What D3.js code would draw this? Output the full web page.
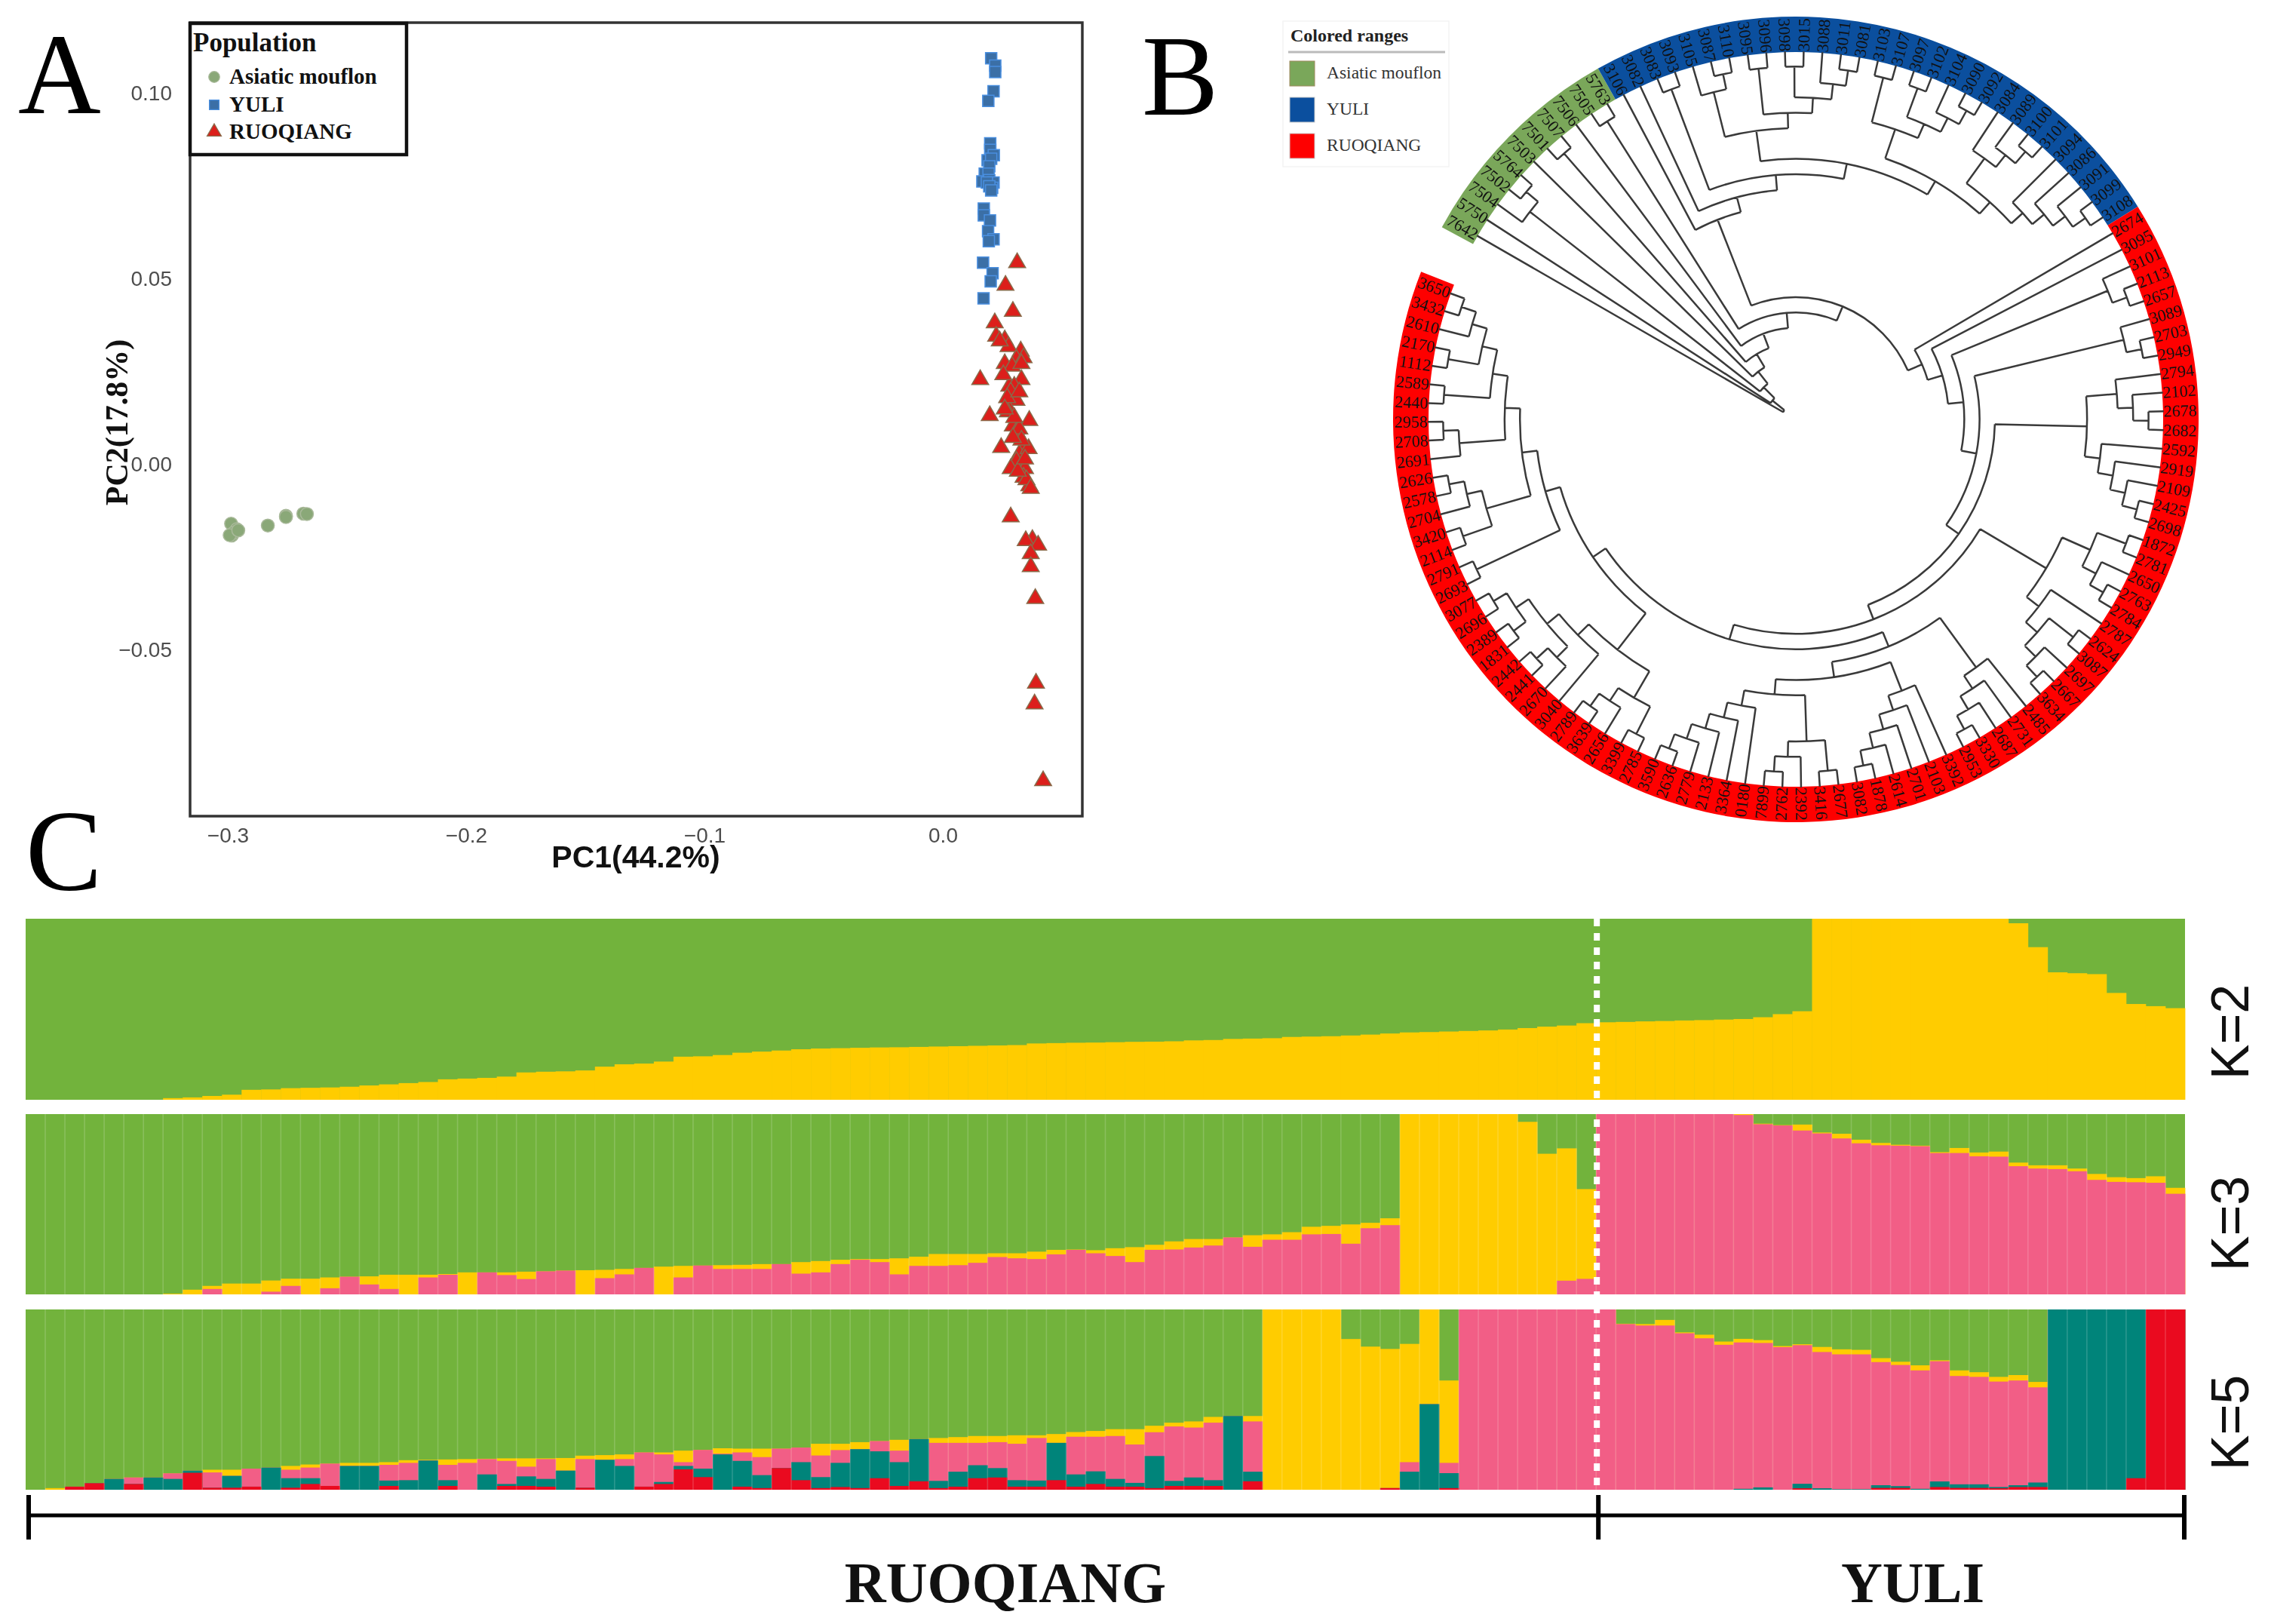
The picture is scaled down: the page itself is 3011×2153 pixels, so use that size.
<!DOCTYPE html>
<html><head><meta charset="utf-8">
<script src="https://cdn.jsdelivr.net/npm/d3@7"></script>
<style>html,body{margin:0;padding:0;background:#fff}svg{display:block;filter:blur(.7px)}</style>
</head><body><svg id="fig" width="3011" height="2153"></svg>
<script>
/* ---------- Panel A: PCA (PC1, PC2) ---------- */
const pcaXTicks=[-0.3,-0.2,-0.1,0.0];
const pcaYTicks=[-0.05,0,0.05,0.10];
const mouflonPC=[[-.2986,-.0159],[-.2983,-.0191],[-.2962,-.0174],[-.2977,-.0184],[-.2992,-.0190],[-.2956,-.0177],[-.2832,-.0164],[-.2756,-.0138],[-.2756,-.0141],[-.2683,-.0132],[-.2668,-.0133]];
const yuliPC=[[.0203,.1095],[.0220,.1075],[.0220,.1058],[.0213,.1006],[.0191,.0980],[.0199,.0866],[.0199,.0848],[.0214,.0834],[.0188,.0820],[.0203,.0824],[.0195,.0804],[.0176,.0784],[.0192,.0784],[.0166,.0763],[.0195,.0767],[.0213,.0760],[.0185,.0760],[.0207,.0746],[.0195,.0750],[.0203,.0739],[.0172,.0690],[.0172,.0672],[.0198,.0658],[.0190,.0629],[.0213,.0607],[.0193,.0602],[.0169,.0544],[.0209,.0516],[.0201,.0494],[.0171,.0448]];
const ruoqiangPC=[[.0312,.0544],[.0263,.0483],[.0294,.0413],[.0218,.0382],[.0224,.0346],[.0260,.0336],[.0276,.0318],[.0327,.0306],[.0309,.0284],[.0339,.0288],[.0260,.0272],[.0291,.0265],[.0157,.0229],[.0330,.0229],[.0279,.0211],[.0300,.0211],[.0309,.0173],[.0279,.0147],[.0197,.0132],[.0363,.0119],[.0294,.0104],[.0309,.0089],[.0339,.0043],[.0245,.0046],[.0321,.0028],[.0360,.0043],[.0309,.0009],[.0285,-.0011],[.0345,-.0011],[.0339,-.0034],[.0363,-.0057],[.0351,-.0041],[.0285,-.0141],[.0376,-.0202],[.0348,-.0205],[.0400,-.0217],[.0369,-.0240],[.0369,-.0275],[.0388,-.0361],[.0391,-.0589],[.0385,-.0645],[.0421,-.0852],[.0273,.0142],[.0330,.0272],[.0239,.0333],[.0321,.0096],[.0254,.0242],[.0369,-.0064],[.0285,.0196],[.0270,.0180],[.0300,.0127],[.0330,.0066],[.0294,.0073],[.0315,-.0018],[.0345,.0015],[.0260,.0150],[.0321,.0196]];
const populations=["Asiatic mouflon","YULI","RUOQIANG"];

/* ---------- Panel B: tree topology (leaf names clockwise) ---------- */
const groupSizes=[11,30,80];
const groupColors=["#7aa75a","#0b4f9e","#fe0000"];
const blueClade=["3106",["3082",[["3083","3093"],[
  [["3105",["3087","3110"]],[["3095","3096"],[["3098","3015"],["3088",["3011","3081"]]]]],
  [[["3103","3107"],[["3097","3102"],["3104",["3090","3092"]]]],
   [["3084",["3089",["3100","3101"]]],["3094",["3086",["3091",["3099","3108"]]]]]]
]]]];
const redUpper=[["3101",["2113","2657"]],[["3089",["2703","2949"]],[
  [["2794",["2102",["2678","2682"]]],["2592",["2919",["2109",["2425","2698"]]]]],
  "LOWER"]]];
const redMid=[[[["1872","2781"],["2650",["2763","2784"]]],["2787",[["2624","3087"],["2697",["2667","3634"]]]]],
  [[["2485",["2731",["2687",["3330","2953"]]]],
    [["3392",["2103",["2701",["2614",["1878","3082"]]]]],
     [[["2677","3416"],["2392",["2762","7899"]]],["0180",["3364",["2133",["2779",["2636","3590"]]]]]]]],
   [[[["2785","3399"],["2656",["3639","2789"]]],["3040",[["2670",["2441","2442"]],[["1831","2389"],["2696","3077"]]]]],
    [["2693","2791"],[[["2114","3420"],["2704",["2578","2626"]]],
      [["2691",["2708","2958"]],[["2440","2589"],[["1112","2170"],["2610",["3432","3650"]]]]]]]]]];
redUpper[1][1][1]=redMid;
const redClade=["2674",["3095",redUpper]];
const treeTopology=["7642",["5750",[["7504",["7502","5764"]],["7503",[["7501","7507"],["7506",[["7505","5763"],[blueClade,redClade]]]]]]]];

/* ---------- Panel C: ADMIXTURE, cumulative % per individual ---------- */
const popSplit=[["RUOQIANG",80],["YULI",30]];
const k2Yellow=[0,0,0,0,0,0,0,.9,1.3,2.1,
2.8,5.5,5.7,6.4,6.6,6.8,7.2,7.9,8.5,9.2,
9.8,11.3,11.7,12.1,12.8,15.1,15.5,15.7,16.2,18.3,
19.6,20,21.1,23.8,24,24.7,26,26.6,27.2,27.9,
28.3,28.5,28.7,28.9,29,29.2,29.4,29.6,29.8,30,
30.2,31.1,31.3,31.5,31.6,31.8,32,32.1,32.3,32.8,
33,33.6,33.8,34,34.7,34.9,35.1,35.5,36,36.6,
37.2,37.4,37.7,38,38.3,38.8,39.6,40.4,41,42.3,
42.8,43,43.3,43.5,43.8,44,44.3,44.6,45.6,47.3,
48.9,100,100,100,100,100,100,100,100,100,
100,97.5,84.3,70.4,69.9,69.4,59,52.9,51.7,50.6];
const k3Pink=[0,0,0,0,0,0,0,0,0,3,
0,0,1.5,4.7,0,3.4,9.8,5.5,3,0,
9.4,10.9,0,12.2,10.7,8.5,12.8,13.2,0,9,
11.1,14.7,0,9.4,16,14.1,14.1,14.1,16.8,11.5,
12.2,16.8,19.2,17.9,11.1,15.8,15.8,16.2,17.5,20.7,
20,19.6,22.2,24.7,22.8,21.3,17.9,24.7,24.9,26,
27.1,31.6,26.4,30.3,30.3,33.3,33.5,28.1,36.7,38.4,
0,0,0,0,0,0,0,0,7.6,8.6,
100,100,100,100,100,100,100,99.5,94.4,93.7,
90.9,89.3,86.5,83.8,82.7,82.5,82.2,78.4,78.4,76.6,
76.4,71.1,69.8,69.5,68.3,63.5,62.4,62.2,61.9,55.8];
const k3Yellow=[0,0,0,0,0,0,0,.4,2.6,4.7,
6,6,7.7,8.7,8.7,9.4,9.8,10,10.9,10.9,
10.9,11.3,12.2,12.2,12.2,12.6,12.8,13.2,13.4,13.6,
14.1,14.7,15.4,15.8,16,16.2,16.4,16.8,16.8,17.9,
18.5,19.2,19.6,19.6,20,20.9,22.4,22.4,22.4,22.8,
22.8,23.7,24.7,24.9,24.5,25.6,26.2,27.5,29.4,30.7,
30.7,31.6,32.8,33.3,34.5,37.5,38,38.8,39.7,42.2,
100,100,100,100,100,100,95.7,78,81,58.4,
100,100,100,100,100,100,100,100,94.7,93.9,
94.2,89.8,89.1,85.8,84,83,82.5,78.9,81.2,78.7,
79.2,73.1,71.6,71.6,69.8,66.8,65,64.5,65.5,59.1];
/* each row: red, teal, pink, yellow (cumulative from the bottom) */
const k5Rows=[[0,0,0,0],[0,0,0,.9],[1.7,1.7,1.7,1.7],[3.6,3.6,3.6,3.6],[0,6,6,6],[3.2,3.2,6.8,6.8],[0,6.8,6.8,6.8],[0,6,9.1,9.1],[9.4,10.6,10.6,10.6],[1.1,1.1,9.6,11.1],
[1.1,7.7,7.7,11.1],[1.7,1.7,11.7,11.7],[0,12.3,12.3,12.3],[1.1,6.4,11.1,13.2],[3.2,6.4,12.3,14],[2.1,2.1,14.5,14.5],[0,13.2,13.2,14.9],[0,13.2,13.2,14.9],[2.1,5.1,13.8,15.3],[0,5.3,14.9,16.4],
[0,16.2,16.2,16.6],[2.1,5.3,13.8,16.8],[0,0,14.9,17],[0,8.5,17,17.2],[2.1,3.2,16,17.4],[2.1,7.4,12.8,17.4],[1.7,6,17,17.4],[0,10.6,10.6,17.6],[1.1,1.1,17,18.9],[0,16.6,16.6,19.2],
[0,13.2,17,19.6],[1.7,1.7,20.7,20.7],[3.2,4.3,19.6,20.7],[11.3,13.2,15.3,21.7],[7,11.7,22.1,22.1],[0,19.6,20,23],[1.7,16,20.7,22.8],[.9,8.1,18.1,22.8],[12,12,22.8,22.8],[5.3,15.3,23.4,23.4],
[.9,7,19,25.5],[1.5,14.9,22,25.5],[.9,22.5,22.5,26.4],[6.4,21.3,27,27],[2.1,15.3,21.7,27.7],[4.7,28.1,28.1,28.1],[.9,4.9,26,28.7],[1.7,10,26,29.2],[6.4,13.6,26,29.8],[6.8,12,26.4,29.8],
[1.7,5.3,25.5,30.2],[1.7,5.1,28.7,30.2],[5.3,26,26,30.9],[1.7,8.5,29.4,32],[3.2,10.2,29.4,32.6],[1.7,6,29.8,33.6],[1.7,3.8,25.1,33.6],[.9,18.7,31.9,35.5],[2.1,4.9,35.1,37.2],[2.1,6.8,34.5,37.9],
[2.1,5.3,37.2,40.4],[0,40.9,40.9,40.9],[4.7,10,37.9,40.9],[0,0,0,100],[0,0,0,100],[0,0,0,100],[0,0,0,100],[0,0,0,83.6],[0,0,0,79.4],[.9,.9,.9,78.1],
[0,10,15.3,80.9],[0,47.5,47.5,100],[.9,9.2,14.9,60.6],[0,0,100,100],[0,0,100,100],[0,0,100,100],[0,0,100,100],[0,0,100,100],[0,0,100,100],[0,0,100,100],
[0,0,100,100],[0,0,91.9,92.1],[0,0,91.1,91.9],[0,0,91.1,94.2],[0,0,86.8,87.3],[0,0,84,86],[0,0,80.4,82.2],[0,.5,81.7,83.7],[0,1.3,81.4,83],[0,0,79.1,79.7],
[.8,3.3,80.2,80.7],[0,.8,76.4,79.2],[0,.3,75.1,77.9],[0,.3,75.1,77.6],[1,2.5,70.8,73],[1,2,69.2,71],[0,.5,66.2,69],[1.5,4.6,71.3,71.8],[1,3,63.1,66.2],[1,3,62.6,65.2],
[.8,1.5,60,62.6],[1.5,2.5,60.6,63.6],[1.5,4,56.8,59.8],[0,100,100,100],[0,100,100,100],[0,100,100,100],[0,100,100,100],[6.4,100,100,100],[100,100,100,100],[100,100,100,100]];
const kLabels=["K=2","K=3","K=5"];
const ancestryColors={green:"#72b33c",yellow:"#ffcc00",pink:"#f25e86",teal:"#00847a",red:"#ea0a1f"};

/* ---------- drawing ---------- */
const svg=d3.select("#fig");
const SERIF="'Liberation Serif','Times New Roman',serif", SANS="'Liberation Sans',Arial,sans-serif";
const panelLetter=(t,x,y)=>svg.append("text").text(t).attr("x",x).attr("y",y).attr("font-family",SERIF).attr("font-size",152).attr("fill","#000");
panelLetter("A",24,150);panelLetter("B",1514,152);panelLetter("C",34,1180);

/* Panel A */
const pa=svg.append("g");
const px=d3.scaleLinear().domain([-0.3,0]).range([302,1250]);
const py=d3.scaleLinear().domain([-0.05,0.10]).range([862,124]);
const axisStyle=g=>{g.select(".domain").remove();g.selectAll("text").attr("font-family",SANS).attr("font-size",28).attr("fill","#4d4d4d");};
pa.append("g").attr("transform","translate(252,0)").call(d3.axisLeft(py).tickValues(pcaYTicks).tickSize(0).tickPadding(24).tickFormat(d3.format(".2f"))).call(axisStyle);
pa.append("g").attr("transform","translate(0,1082)").call(d3.axisBottom(px).tickValues(pcaXTicks).tickSize(0).tickPadding(15).tickFormat(d3.format(".1f"))).call(axisStyle);
pa.append("rect").attr("x",252).attr("y",30).attr("width",1183).attr("height",1052).attr("fill","none").attr("stroke","#333").attr("stroke-width",3.5);
const sym=(t,s)=>d3.symbol().type(t).size(s)();
const circ=sym(d3.symbolCircle,230),squ=sym(d3.symbolSquare,225),tri=sym(d3.symbolTriangle,215);
const plot=(data,path,fill,stroke,sw)=>pa.append("g").selectAll("path").data(data).join("path").attr("d",path)
  .attr("transform",d=>`translate(${px(d[0])},${py(d[1])})`).attr("fill",fill).attr("stroke",stroke).attr("stroke-width",sw);
plot(mouflonPC,circ,"#8aa878","#a9b99a",1.5);
plot(yuliPC,squ,"#3b6fa6","#4a8fe0",1.5);
plot(ruoqiangPC,tri,"#dc1f1b","#8a6a4a",1.5);
pa.append("text").text("PC1(44.2%)").attr("x",843).attr("y",1150).attr("text-anchor","middle").attr("font-family",SANS).attr("font-weight","bold").attr("font-size",41).attr("fill","#111");
pa.append("text").text("PC2(17.8%)").attr("transform","translate(169,560) rotate(-90)").attr("text-anchor","middle").attr("font-family",SERIF).attr("font-weight","bold").attr("font-size",42).attr("fill","#111");
pa.append("rect").attr("x",252).attr("y",31).attr("width",287).attr("height",174).attr("fill","#fff").attr("stroke","#111").attr("stroke-width",4.5);
pa.append("text").text("Population").attr("x",256).attr("y",68).attr("font-family",SERIF).attr("font-weight","bold").attr("font-size",35).attr("fill","#111");
const legSyms=[[circ,"#8aa878","#a9b99a"],[squ,"#3b6fa6","#4a8fe0"],[tri,"#dc1f1b","#8a6a4a"]];
const legY=[102,139,175];
populations.forEach((p,i)=>{
  pa.append("path").attr("d",legSyms[i][0]).attr("transform",`translate(284,${legY[i]}) scale(.85)`).attr("fill",legSyms[i][1]).attr("stroke",legSyms[i][2]).attr("stroke-width",1.5);
  pa.append("text").text(p).attr("x",304).attr("y",legY[i]+9).attr("font-family",SERIF).attr("font-weight","bold").attr("font-size",29).attr("fill","#111");
});

/* Panel B */
const CX=2381,CY=556,R_ROOT=19.5,R_TIP=488,R_RING=534,START=-61.5,SWEEP=353;
const pb=svg.append("g").attr("transform",`translate(${CX},${CY})`);
const root=d3.hierarchy(treeTopology,d=>Array.isArray(d)?d:null);
d3.cluster().size([SWEEP,1]).separation(()=>1)(root);
const rr=d3.scaleLinear().domain([0,1]).range([R_ROOT,R_TIP]);
const ang=d=>(d.x+START)*Math.PI/180;
const leaves=root.leaves(), step=SWEEP/leaves.length*Math.PI/180;
let off=0;
groupSizes.forEach((n,g)=>{
  pb.append("path").attr("fill",groupColors[g]).attr("d",d3.arc()({innerRadius:487,outerRadius:R_RING,startAngle:ang(leaves[off])-step/2,endAngle:ang(leaves[off+n-1])+step/2}));
  off+=n;
});
const pt=(a,r)=>d3.pointRadial(a,r);
let dPath="";
root.descendants().forEach(n=>{
  if(n.parent){const a=pt(ang(n),rr(n.parent.y)),b=pt(ang(n),rr(n.y));dPath+=`M${a}L${b}`;}
  if(n.children){
    const first=n.children[0],last=n.children[n.children.length-1],r=rr(n.y);
    const a=pt(ang(first),r),b=pt(ang(last),r),large=(last.x-first.x)>180?1:0;
    dPath+=`M${a}A${r},${r} 0 ${large} 1 ${b}`;
  }
});
pb.append("path").attr("d",dPath).attr("fill","none").attr("stroke","#3a3a3a").attr("stroke-width",2.5);
pb.append("g").selectAll("text").data(leaves).join("text").text(d=>d.data)
  .attr("transform",d=>{const A=d.x+START,[x,y]=pt(ang(d),510),deg=((A%360)+360)%360;return `translate(${x},${y}) rotate(${deg<=180?deg-90:deg+90})`;})
  .attr("text-anchor","middle").attr("dy",".33em").attr("font-family",SERIF).attr("font-size",22).attr("fill","#111");
/* Legend B */
const lb=svg.append("g");
lb.append("rect").attr("x",1701).attr("y",28).attr("width",220).attr("height",193).attr("fill","#fff").attr("stroke","#f4f4f4").attr("stroke-width",1.5);
lb.append("text").text("Colored ranges").attr("x",1711).attr("y",55).attr("font-family",SERIF).attr("font-weight","bold").attr("font-size",24).attr("fill","#222");
lb.append("line").attr("x1",1708).attr("x2",1916).attr("y1",69).attr("y2",69).attr("stroke","#bbb").attr("stroke-width",3);
const swY=[81,129,177];
populations.forEach((p,i)=>{
  lb.append("rect").attr("x",1710).attr("y",swY[i]).attr("width",33).attr("height",33).attr("fill",groupColors[i]).attr("stroke",i==0?"#a08a60":"#ccc").attr("stroke-width",1);
  lb.append("text").text(p).attr("x",1759).attr("y",swY[i]+23).attr("font-family",SERIF).attr("font-size",23.5).attr("fill","#333");
});

/* Panel C */
const pc=svg.append("g");
const individuals=d3.range(d3.sum(popSplit,d=>d[1]));
const bx=d3.scaleBand().domain(individuals).range([34,2897]);
const layers=(top,bottom,rows,keys,sep)=>{
  const by=d3.scaleLinear().domain([0,100]).range([bottom,top]);
  const g=pc.append("g");
  g.append("rect").attr("x",34).attr("y",top).attr("width",2863).attr("height",bottom-top).attr("fill",ancestryColors.green);
  keys.forEach((k,j)=>{ /* drawn from the top layer down so each covers the one above */
    g.append("g").selectAll("rect").data(individuals).join("rect")
     .attr("x",d=>bx(d)).attr("width",bx.bandwidth()+.4).attr("y",d=>by(rows[j][d])).attr("height",d=>by(0)-by(rows[j][d])).attr("fill",ancestryColors[k]);
  });
  if(sep) g.append("g").selectAll("line").data(individuals.slice(1)).join("line").attr("x1",d=>bx(d)).attr("x2",d=>bx(d)).attr("y1",top).attr("y2",bottom).attr("stroke","#fff").attr("stroke-opacity",.17).attr("stroke-width",1.6);
};
layers(1218,1458,[k2Yellow],["yellow"],false);
layers(1477,1716,[k3Yellow,k3Pink],["yellow","pink"],true);
layers(1736,1975,[k5Rows.map(r=>r[3]),k5Rows.map(r=>r[2]),k5Rows.map(r=>r[1]),k5Rows.map(r=>r[0])],["yellow","pink","teal","red"],true);
const splitX=bx(popSplit[0][1])+1;
pc.append("line").attr("x1",splitX).attr("x2",splitX).attr("y1",1218).attr("y2",1975).attr("stroke","#fff").attr("stroke-width",8).attr("stroke-dasharray","10 9");
const labelY=[1368,1622,1886];
kLabels.forEach((k,i)=>pc.append("text").text(k).attr("transform",`translate(2981,${labelY[i]}) rotate(-90)`).attr("text-anchor","middle").attr("font-family",SANS).attr("font-size",70).attr("fill","#111"));
const bracket=pc.append("g").attr("stroke","#000").attr("fill","none");
bracket.append("line").attr("x1",38).attr("x2",2896).attr("y1",2009).attr("y2",2009).attr("stroke-width",5);
[38,splitX+2,2896].forEach(x=>bracket.append("line").attr("x1",x).attr("x2",x).attr("y1",1982).attr("y2",2041).attr("stroke-width",6));
const popLab=[[popSplit[0][0],1333],[popSplit[1][0],2536]];
popLab.forEach(d=>pc.append("text").text(d[0]).attr("x",d[1]).attr("y",2124).attr("text-anchor","middle").attr("font-family",SERIF).attr("font-weight","bold").attr("font-size",76).attr("fill","#111"));
</script></body></html>
